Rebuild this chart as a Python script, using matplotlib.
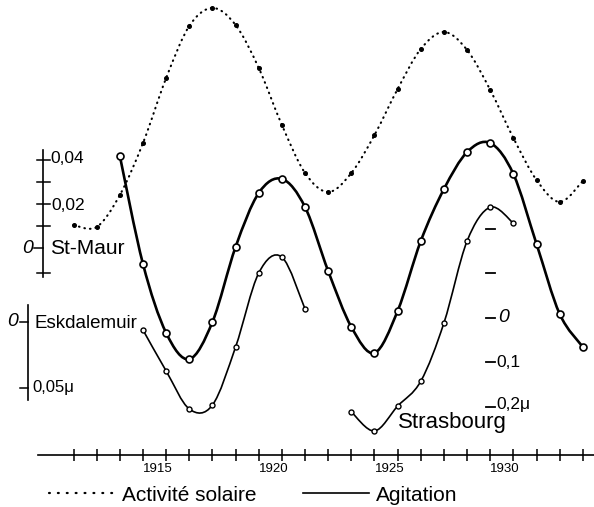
import matplotlib
matplotlib.use("Agg")
import matplotlib.pyplot as plt
from matplotlib.path import Path
from matplotlib.patches import PathPatch
from matplotlib.lines import Line2D

plt.rcParams['font.family'] = ['Liberation Sans', 'DejaVu Sans']

# --- valeurs ---
annees_sol = list(range(1912, 1935))
activite_solaire = [2.5, 1.5, 17.5, 43.5, 76, 102, 111, 102.5, 81, 52.5, 28.5, 19,
                    28.5, 47.5, 70.5, 90.5, 99, 90, 70, 46, 25, 14, 24.5]

annees_stmaur = list(range(1914, 1935))
st_maur = [0.0418, -0.0073, -0.0386, -0.0505, -0.0336, 0.0005, 0.0250, 0.0314,
           0.0186, -0.0105, -0.0359, -0.0477, -0.0286, 0.0032, 0.0268, 0.0436,
           0.0477, 0.0336, 0.0018, -0.0300, -0.0450]

annees_esk = list(range(1915, 1923))
eskdalemuir = [0.0061, 0.0371, 0.0659, 0.0629, 0.0189, -0.0371, -0.0492, -0.0098]

annees_stras = list(range(1924, 1932))
strasbourg = [0.211, 0.254, 0.198, 0.142, 0.011, -0.173, -0.249, -0.213]

annees_ticks = list(range(1912, 1935))
annees_labels = [1915, 1920, 1925, 1930]


def courbe_lisse(ax, x, y, **kw):
    # trait lissé (Catmull-Rom -> Bézier) passant par les points
    pts = list(zip(x, y))
    n = len(pts)
    verts = [pts[0]]
    codes = [Path.MOVETO]
    for i in range(n - 1):
        p0 = pts[max(i - 1, 0)]
        p1 = pts[i]
        p2 = pts[i + 1]
        p3 = pts[min(i + 2, n - 1)]
        c1 = (p1[0] + (p2[0] - p0[0]) / 6, p1[1] + (p2[1] - p0[1]) / 6)
        c2 = (p2[0] - (p3[0] - p1[0]) / 6, p2[1] - (p3[1] - p1[1]) / 6)
        verts += [c1, c2, p2]
        codes += [Path.CURVE4] * 3
    ax.add_patch(PathPatch(Path(verts, codes), fill=False, **kw))


fig = plt.figure(figsize=(5.94, 5.07), dpi=100)
ax = fig.add_axes([38 / 594, 52 / 507, 556 / 594, 455 / 507])
ax.set_xlim(1910.464, 1934.482)
ax.set_ylim(-112.5, 115)
for s in ["top", "left", "right"]:
    ax.spines[s].set_visible(False)
ax.spines["bottom"].set_linewidth(1.2)
ax.set_yticks([])
ax.set_xticks(annees_ticks, minor=True)
ax.set_xticks(annees_labels)
ax.set_xticklabels([str(a) for a in annees_labels])
ax.tick_params(which="both", direction="inout", length=9, width=1.1)
ax.tick_params(axis="x", labelsize=9.5, pad=1.5)
for lab in ax.get_xticklabels():
    lab.set_ha("left")

# activité solaire (pointillé)
courbe_lisse(ax, annees_sol, activite_solaire, edgecolor="black", lw=1.5,
             linestyle=(0, (0.3, 2.4)), capstyle="round")
ax.plot(annees_sol, activite_solaire, "o", color="black", ms=2.6)

# St-Maur
ax_sm = ax.twinx()
ax_sm.axis("off")
ax_sm.set_ylim(-0.09409, 0.11273)
courbe_lisse(ax_sm, annees_stmaur, st_maur, edgecolor="black", lw=1.9)
ax_sm.plot(annees_stmaur, st_maur, "o", ms=5, mfc="white", mec="black", mew=1.2)
xb = 1910.68
ax_sm.plot([xb, xb], [-0.013, 0.0445], color="black", lw=1.2, clip_on=False)
for v in [-0.0114, 0.01, 0.02, 0.03, 0.04]:
    ax_sm.plot([1910.42, 1910.98], [v, v], color="black", lw=1.1, clip_on=False)
ax_sm.plot([1910.27, xb], [0, 0], color="black", lw=1.1, clip_on=False)
ax_sm.text(1910.98, 0.0405, "0,04", fontsize=12.5, va="center", ha="left")
ax_sm.text(1911.05, 0.0195, "0,02", fontsize=12.5, va="center", ha="left")
ax_sm.text(1910.25, 0, "0", fontsize=14, va="center", ha="right", style="italic")
ax_sm.text(1910.98, 0, "St-Maur", fontsize=15, va="center", ha="left")

# Eskdalemuir (échelle vers le bas)
ax_esk = ax.twinx()
ax_esk.axis("off")
ax_esk.set_ylim(0.10076, -0.24394)
courbe_lisse(ax_esk, annees_esk, eskdalemuir, edgecolor="black", lw=1.2)
ax_esk.plot(annees_esk, eskdalemuir, "o", ms=3.6, mfc="white", mec="black", mew=1.0)
xe = 1910.03
ax_esk.plot([xe, xe], [-0.0129, 0.059], color="black", lw=1.2, clip_on=False)
for v in [0, 0.05]:
    ax_esk.plot([1909.7, xe], [v, v], color="black", lw=1.1, clip_on=False)
ax_esk.text(1909.62, 0, "0", fontsize=14, va="center", ha="right", style="italic")
ax_esk.text(1910.33, 0.0008, "Eskdalemuir", fontsize=13.5, va="center", ha="left")
ax_esk.text(1910.2, 0.05, "0,05\u03bc", fontsize=12, va="center", ha="left")

# Strasbourg (échelle à droite, vers le bas)
ax_st = ax.twinx()
ax_st.axis("off")
ax_st.set_ylim(0.30787, -0.71461)
courbe_lisse(ax_st, annees_stras, strasbourg, edgecolor="black", lw=1.2)
ax_st.plot(annees_stras, strasbourg, "o", ms=3.6, mfc="white", mec="black", mew=1.0)
for v in [-0.2, -0.1, 0, 0.1, 0.2]:
    ax_st.plot([1929.82, 1930.2], [v, v], color="black", lw=1.3, clip_on=False)
ax_st.text(1930.33, 0, "0", fontsize=14, va="center", ha="left", style="italic")
ax_st.text(1930.28, 0.1, "0,1", fontsize=12.5, va="center", ha="left")
ax_st.text(1930.28, 0.195, "0,2\u03bc", fontsize=12.5, va="center", ha="left")
ax_st.text(1926.0, 0.235, "Strasbourg", fontsize=16, va="center", ha="left")

# légende
poignees = [
    Line2D([], [], color="black", lw=1.6, linestyle=(0, (0.4, 3.6)),
           dash_capstyle="round"),
    Line2D([], [], color="black", lw=1.2),
]
fig.legend(poignees, ["Activité solaire", "Agitation"], loc="lower left",
           bbox_to_anchor=(36 / 594, -0.02), ncol=2, frameon=False, fontsize=15,
           handlelength=3.2, handletextpad=0.34, columnspacing=2.2, borderpad=0.1)

fig.savefig("out.png", dpi=100)
